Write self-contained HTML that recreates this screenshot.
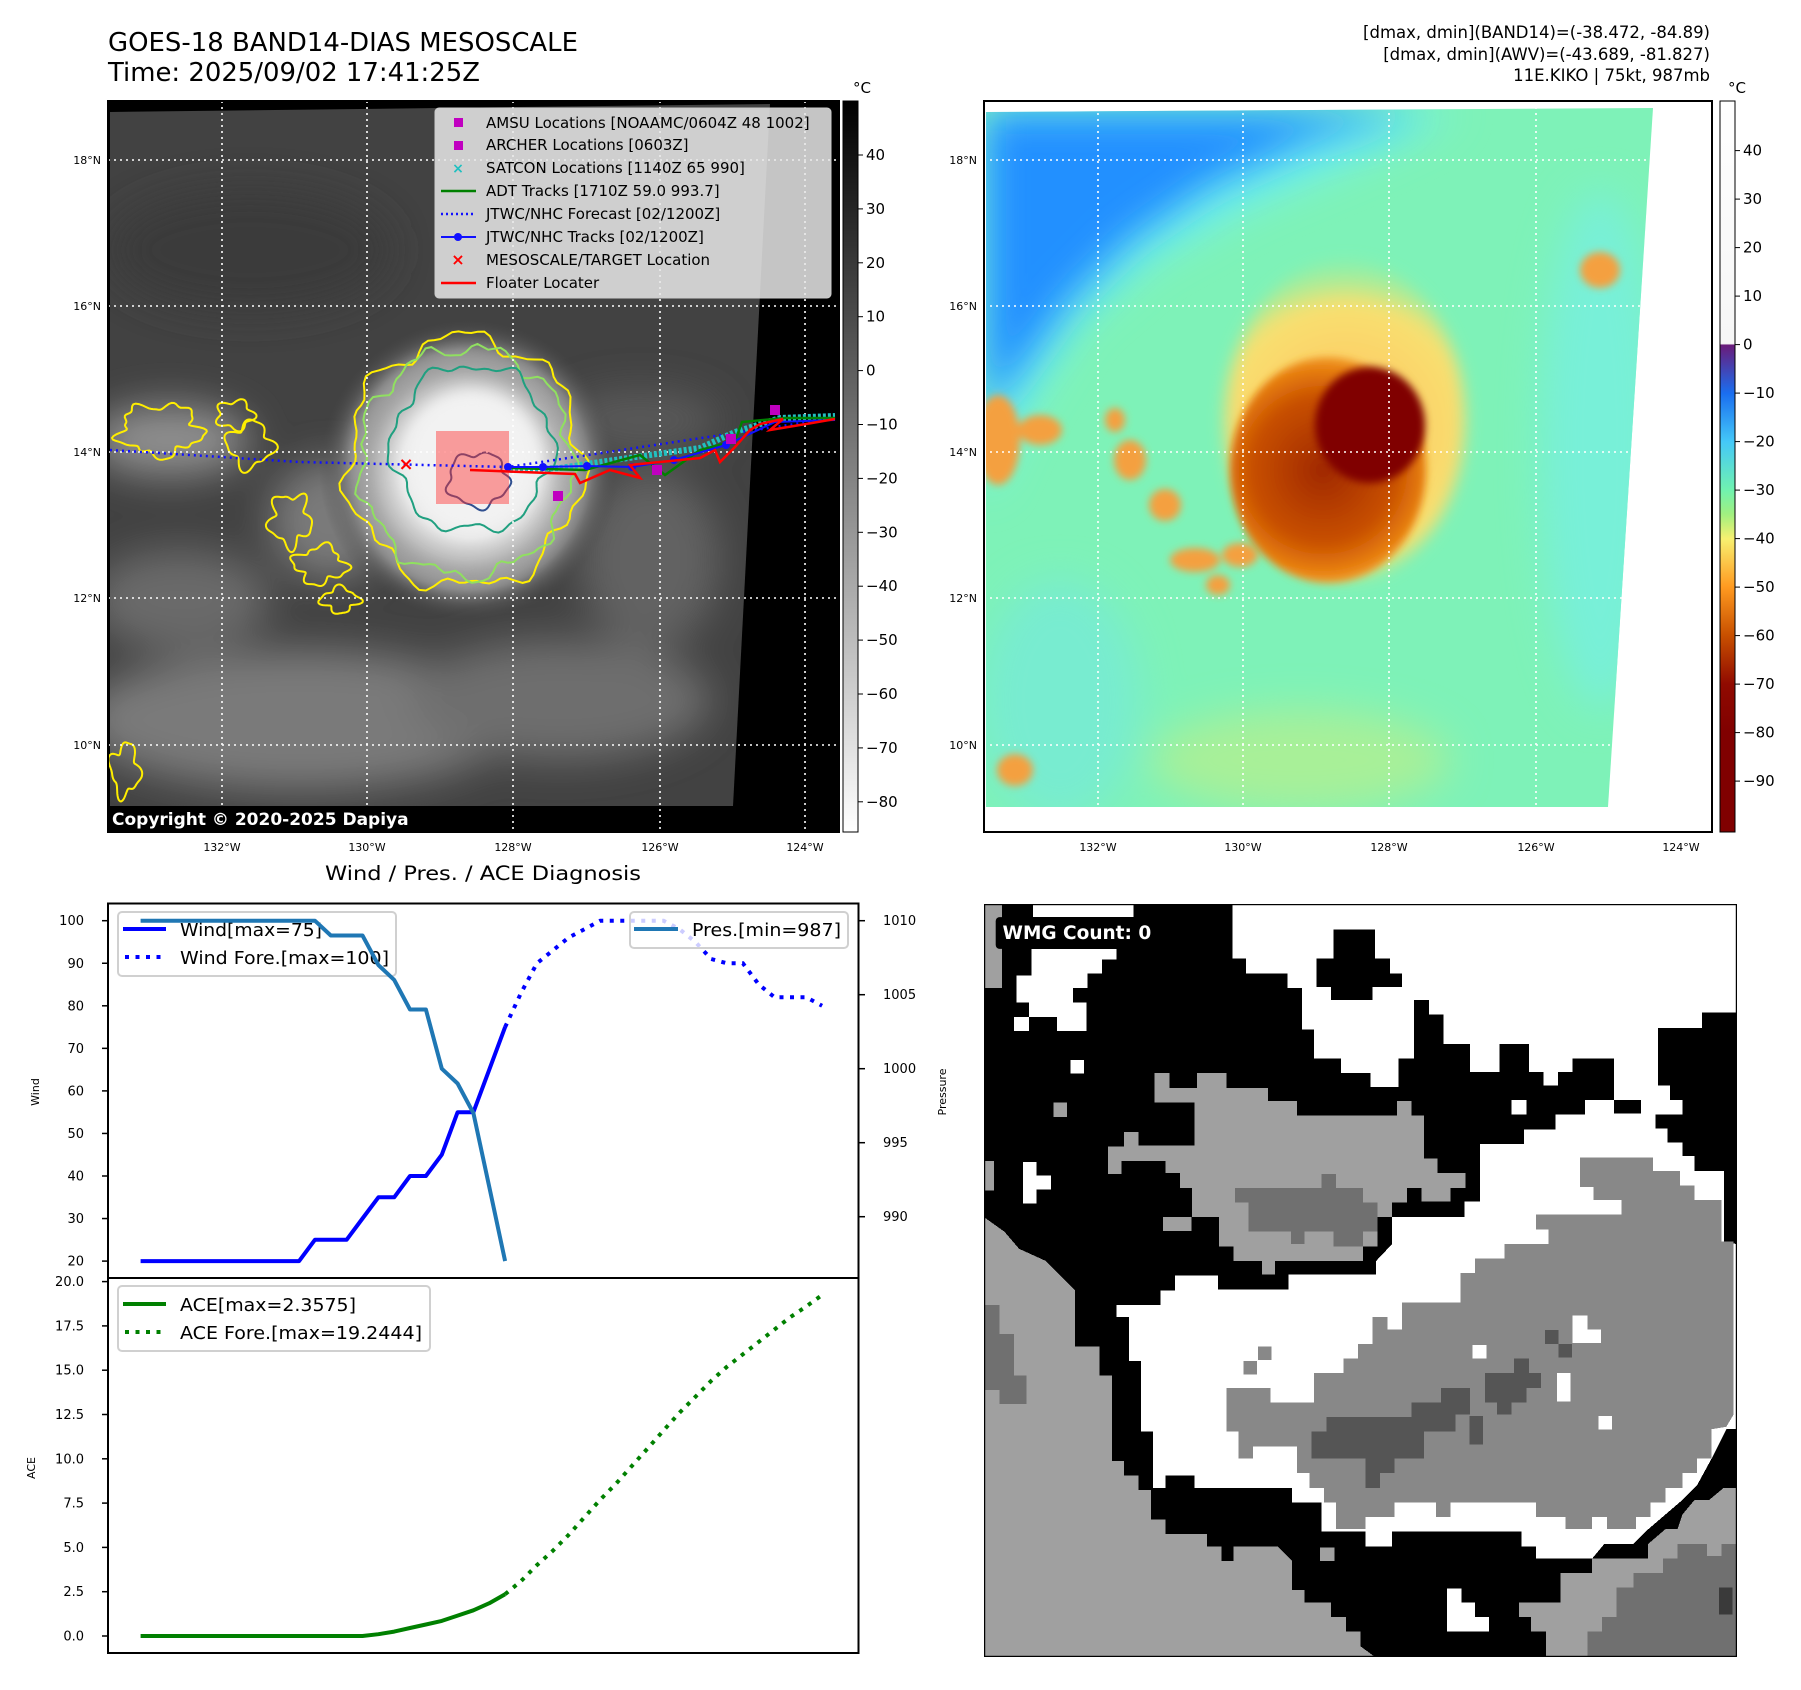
<!DOCTYPE html>
<html><head><meta charset="utf-8"><style>
html,body{margin:0;padding:0;background:#fff;}
svg{display:block;font-family:"DejaVu Sans","Liberation Sans",sans-serif;}
</style></head><body>
<svg id="root" width="1801" height="1690" viewBox="0 0 1801 1690" xmlns="http://www.w3.org/2000/svg">
<defs>
  <linearGradient id="cb1" x1="0" y1="0" x2="0" y2="1"><stop offset="0" stop-color="#000"/><stop offset="1" stop-color="#fff"/></linearGradient>
  <linearGradient id="cb2" x1="0" y1="0" x2="0" y2="1">
    <stop offset="0" stop-color="#ffffff"/><stop offset="0.332" stop-color="#f6f6f6"/>
    <stop offset="0.334" stop-color="#6a1b7a"/><stop offset="0.40" stop-color="#1a6ef0"/>
    <stop offset="0.466" stop-color="#44c8f8"/><stop offset="0.532" stop-color="#70f2b0"/>
    <stop offset="0.565" stop-color="#a0f080"/><stop offset="0.599" stop-color="#f8f070"/>
    <stop offset="0.665" stop-color="#ff9a20"/><stop offset="0.731" stop-color="#c85000"/>
    <stop offset="0.798" stop-color="#900a00"/><stop offset="0.864" stop-color="#800000"/><stop offset="1" stop-color="#800000"/>
  </linearGradient>
  <radialGradient id="storm1" cx="469" cy="470" r="150" gradientUnits="userSpaceOnUse">
    <stop offset="0" stop-color="#f4f4f4"/><stop offset="0.45" stop-color="#e6e6e6"/>
    <stop offset="0.6" stop-color="#bdbdbd"/><stop offset="0.8" stop-color="#808080"/>
    <stop offset="1" stop-color="#4a4a4a" stop-opacity="0"/>
  </radialGradient>
  <radialGradient id="halo2" cx="1345" cy="430" r="180" gradientUnits="userSpaceOnUse">
    <stop offset="0" stop-color="#ffc060"/><stop offset="0.7" stop-color="#f8e070"/><stop offset="1" stop-color="#a0f090" stop-opacity="0"/>
  </radialGradient>
  <radialGradient id="core2" cx="1323" cy="470" r="120" gradientUnits="userSpaceOnUse">
    <stop offset="0" stop-color="#a02800"/><stop offset="0.6" stop-color="#c85000"/><stop offset="0.85" stop-color="#e88010"/><stop offset="1" stop-color="#f8b040"/>
  </radialGradient>
  <filter id="b20" x="-50%" y="-50%" width="200%" height="200%"><feGaussianBlur stdDeviation="20"/></filter>
  <filter id="b8" x="-50%" y="-50%" width="200%" height="200%"><feGaussianBlur stdDeviation="8"/></filter>
  <filter id="b4" x="-50%" y="-50%" width="200%" height="200%"><feGaussianBlur stdDeviation="4"/></filter>
  <clipPath id="clipImg1"><polygon points="110,112 770,104 733,806 110,806"/></clipPath>
  <clipPath id="clipImg2"><polygon points="986,112 1653,108 1608,807 986,807"/></clipPath>
  <clipPath id="clipWmg"><rect x="8" y="8" width="1544" height="1544"/></clipPath>
</defs>

<text x="108" y="51" font-size="26" textLength="470" lengthAdjust="spacingAndGlyphs">GOES-18 BAND14-DIAS MESOSCALE</text>
<text x="108" y="81" font-size="26" textLength="372" lengthAdjust="spacingAndGlyphs">Time: 2025/09/02 17:41:25Z</text>
<g font-size="16.5" text-anchor="end">
  <text x="1710" y="38">[dmax, dmin](BAND14)=(-38.472, -84.89)</text>
  <text x="1710" y="60">[dmax, dmin](AWV)=(-43.689, -81.827)</text>
  <text x="1710" y="81">11E.KIKO | 75kt, 987mb</text>
</g>

<!-- ============ MAP 1 ============ -->
<g>
  <rect x="108" y="101" width="731" height="731" fill="#000"/>
  <g clip-path="url(#clipImg1)">
    <rect x="108" y="101" width="731" height="731" fill="#424242"/>
    <g filter="url(#b20)">
      <ellipse cx="300" cy="720" rx="220" ry="70" fill="#7a7a7a"/>
      <ellipse cx="560" cy="700" rx="150" ry="60" fill="#6e6e6e"/>
      <ellipse cx="180" cy="600" rx="90" ry="50" fill="#6a6a6a"/>
      <ellipse cx="650" cy="560" rx="70" ry="90" fill="#626262"/>
      <ellipse cx="170" cy="440" rx="80" ry="35" fill="#909090"/>
      <ellipse cx="330" cy="520" rx="60" ry="60" fill="#7a7a7a"/>
      <ellipse cx="640" cy="420" rx="80" ry="30" fill="#5a5a5a"/>
      <ellipse cx="250" cy="250" rx="140" ry="60" fill="#3a3a3a"/>
    </g>
    <circle cx="469" cy="470" r="150" fill="url(#storm1)"/>
    <ellipse cx="472" cy="462" rx="68" ry="72" fill="#f2f2f2" filter="url(#b8)"/>
    <ellipse cx="465" cy="470" rx="105" ry="112" fill="none" stroke="#a8a8a8" stroke-width="14" filter="url(#b8)" opacity="0.6"/>
  </g>
  <g id="contours1" fill="none" stroke-width="2"></g>
  <g stroke="#fff" stroke-width="1.6" stroke-dasharray="2,4">
    <line x1="222" y1="101" x2="222" y2="832"/><line x1="367" y1="101" x2="367" y2="832"/><line x1="513" y1="101" x2="513" y2="832"/><line x1="660" y1="101" x2="660" y2="832"/><line x1="805" y1="101" x2="805" y2="832"/>
    <line x1="108" y1="160" x2="839" y2="160"/><line x1="108" y1="306" x2="839" y2="306"/><line x1="108" y1="452" x2="839" y2="452"/><line x1="108" y1="598" x2="839" y2="598"/><line x1="108" y1="745" x2="839" y2="745"/>
  </g>
  <rect x="436" y="431" width="73" height="73" fill="#ff3030" fill-opacity="0.45"/>
  <polyline points="110,450 300,462 508,467 835,418" fill="none" stroke="#1010ff" stroke-width="2.5" stroke-dasharray="2,4"/>
  <polyline points="510,470 560,468 600,462 650,455 700,448 735,432 780,418 835,416" fill="none" stroke="#20c0c0" stroke-width="6" stroke-dasharray="3,2"/>
  <polyline points="508,468 585,470 640,455 665,475 700,450 735,441 742,422 785,418 835,418" fill="none" stroke="#008000" stroke-width="2.5"/>
  <polyline points="508,467 543,467 587,466 632,467 674,460 726,445 775,422 835,420" fill="none" stroke="#1010ff" stroke-width="2"/>
  <g fill="#1010ff"><circle cx="508" cy="467" r="4"/><circle cx="543" cy="467" r="4"/><circle cx="587" cy="466" r="4"/><circle cx="632" cy="467" r="4"/><circle cx="674" cy="460" r="4"/><circle cx="726" cy="445" r="4"/></g>
  <polyline points="470,470 575,474 580,483 610,470 640,478 630,465 700,458 715,450 720,462 735,447 750,430 760,424 783,419 770,430 812,423 835,419" fill="none" stroke="#ff0000" stroke-width="2.5"/>
  <g fill="#c000c0"><rect x="553" y="491" width="10" height="10"/><rect x="770" y="405" width="10" height="10"/><rect x="726" y="434" width="10" height="10"/><rect x="652" y="465" width="10" height="10"/></g>
  <text x="406" y="470" fill="#ff0000" font-size="18" font-weight="bold" text-anchor="middle">×</text>
  <g>
    <rect x="435" y="108" width="396" height="190" rx="4" fill="#e8e8e8" fill-opacity="0.85" stroke="#cccccc"/>
    <g font-size="15">
      <rect x="454" y="118" width="9" height="9" fill="#c000c0"/><text x="486" y="128">AMSU Locations [NOAAMC/0604Z 48 1002]</text>
      <rect x="454" y="141" width="9" height="9" fill="#c000c0"/><text x="486" y="150">ARCHER Locations [0603Z]</text>
      <text x="458" y="173" fill="#20c0c0" font-size="14" font-weight="bold" text-anchor="middle">×</text><text x="486" y="173">SATCON Locations [1140Z 65 990]</text>
      <line x1="441" y1="191" x2="476" y2="191" stroke="#008000" stroke-width="2.5"/><text x="486" y="196">ADT Tracks [1710Z 59.0 993.7]</text>
      <line x1="441" y1="214" x2="476" y2="214" stroke="#1010ff" stroke-width="2.5" stroke-dasharray="2,3"/><text x="486" y="219">JTWC/NHC Forecast [02/1200Z]</text>
      <line x1="441" y1="237" x2="476" y2="237" stroke="#1010ff" stroke-width="2"/><circle cx="458" cy="237" r="4" fill="#1010ff"/><text x="486" y="242">JTWC/NHC Tracks [02/1200Z]</text>
      <text x="458" y="265" fill="#ff0000" font-size="16" font-weight="bold" text-anchor="middle">×</text><text x="486" y="265">MESOSCALE/TARGET Location</text>
      <line x1="441" y1="283" x2="476" y2="283" stroke="#ff0000" stroke-width="2.5"/><text x="486" y="288">Floater Locater</text>
    </g>
  </g>
  <rect x="107" y="806" width="311" height="26" rx="3" fill="#000"/>
  <text x="112" y="825" fill="#fff" font-size="17" font-weight="bold">Copyright © 2020-2025 Dapiya</text>
  <rect x="108" y="101" width="731" height="731" fill="none" stroke="#000" stroke-width="2"/>
</g>
<g>
  <rect x="843" y="101" width="15" height="731" fill="url(#cb1)" stroke="#000" stroke-width="1"/>
  <text x="853" y="93" font-size="15">°C</text>
  <g id="cb1ticks" font-size="15"></g>
</g>
<g id="map1labels" font-size="11"></g>

<!-- ============ MAP 2 ============ -->
<g>
  <rect x="984" y="101" width="728" height="731" fill="#fff"/>
  <g clip-path="url(#clipImg2)">
    <rect x="984" y="101" width="728" height="731" fill="#7ef2b8"/>
    <g filter="url(#b20)">
      <ellipse cx="1300" cy="760" rx="150" ry="50" fill="#a8f098"/>
      <ellipse cx="1060" cy="700" rx="80" ry="120" fill="#78ecd0"/>
      <ellipse cx="1600" cy="450" rx="60" ry="260" fill="#78f0d8"/>
      <path d="M984,112 L1460,112 L1380,150 L1250,205 L1150,260 L1080,320 L1030,400 L984,500 Z" fill="#70f0f0"/>
    </g>
    <path d="M984,112 L1420,112 L1310,140 L1210,185 L1130,240 L1070,300 L1020,370 L984,420 Z" fill="#2090ff" filter="url(#b20)"/>
    <ellipse cx="1345" cy="420" rx="120" ry="160" fill="url(#halo2)" filter="url(#b8)"/>
    <g fill="#f4a040" filter="url(#b4)">
      <ellipse cx="998" cy="440" rx="22" ry="45"/><ellipse cx="1040" cy="430" rx="22" ry="15"/>
      <ellipse cx="1130" cy="460" rx="16" ry="20"/><ellipse cx="1165" cy="505" rx="16" ry="16"/>
      <ellipse cx="1195" cy="560" rx="25" ry="12"/><ellipse cx="1218" cy="585" rx="12" ry="10"/>
      <ellipse cx="1015" cy="770" rx="18" ry="16"/><ellipse cx="1600" cy="270" rx="20" ry="18"/>
      <ellipse cx="1115" cy="420" rx="10" ry="12"/><ellipse cx="1240" cy="555" rx="18" ry="12"/>
    </g>
    <ellipse cx="1328" cy="470" rx="98" ry="113" fill="url(#core2)" filter="url(#b4)"/>
    <ellipse cx="1370" cy="425" rx="55" ry="58" fill="#800000" filter="url(#b4)"/>
  </g>
  <g stroke="#fff" stroke-width="1.6" stroke-dasharray="2,4">
    <line x1="1098" y1="101" x2="1098" y2="832"/><line x1="1243" y1="101" x2="1243" y2="832"/><line x1="1389" y1="101" x2="1389" y2="832"/><line x1="1536" y1="101" x2="1536" y2="832"/><line x1="1681" y1="101" x2="1681" y2="832"/>
    <line x1="984" y1="160" x2="1712" y2="160"/><line x1="984" y1="306" x2="1712" y2="306"/><line x1="984" y1="452" x2="1712" y2="452"/><line x1="984" y1="598" x2="1712" y2="598"/><line x1="984" y1="745" x2="1712" y2="745"/>
  </g>
  <rect x="984" y="101" width="728" height="731" fill="none" stroke="#000" stroke-width="2"/>
</g>
<g>
  <rect x="1720" y="101" width="15" height="731" fill="url(#cb2)" stroke="#000" stroke-width="1"/>
  <text x="1728" y="93" font-size="15">°C</text>
  <g id="cb2ticks" font-size="15"></g>
</g>
<g id="map2labels" font-size="11"></g>

<!-- ============ WIND / PRES / ACE ============ -->
<text x="483" y="880" font-size="19.5" text-anchor="middle" textLength="316" lengthAdjust="spacingAndGlyphs">Wind / Pres. / ACE Diagnosis</text>
<g id="windChart"></g>
<g id="aceChart"></g>

<!-- ============ WMG ============ -->
<svg x="984" y="904" width="753" height="753" viewBox="8 8 1544 1544">
  <g clip-path="url(#clipWmg)" shape-rendering="crispEdges">
  <rect x="8" y="8" width="1544" height="1544" fill="#a0a0a0"/>
  <polygon fill="#000" points="8,8 1552,8 1552,1205 1525,1205 1495,1230 1465,1230 1440,1260 1430,1290 1405,1290 1370,1320 1370,1350 1255,1350 1255,1380 1190,1380 1190,1440 1105,1440 1105,1470 1130,1470 1130,1500 1160,1500 1160,1552 810,1552 780,1530 780,1500 750,1500 750,1470 720,1470 720,1440 665,1440 665,1415 640,1415 640,1355 610,1325 520,1325 520,1355 495,1355 495,1325 465,1325 465,1300 380,1300 380,1270 350,1270 350,1210 325,1210 325,1180 295,1180 295,1150 270,1150 270,975 245,975 245,915 195,915 195,800 165,770 135,740 80,715 50,680 8,650"/>
  <polygon fill="#707070" points="8,830 40,830 40,890 70,890 70,975 95,975 95,1033 40,1033 40,1005 8,1005"/>
  <polygon fill="#707070" points="1245,1552 1245,1500 1275,1500 1275,1470 1305,1470 1305,1410 1340,1410 1340,1380 1400,1380 1400,1350 1430,1350 1430,1320 1490,1320 1490,1345 1520,1345 1520,1320 1552,1320 1552,1552"/>
  <rect x="1515" y="1410" width="28" height="55" fill="#3a3a3a"/>
  <polygon fill="#a0a0a0" points="8,8 45,8 45,180 8,180"/>
  <rect x="8" y="535" width="20" height="60" fill="#a0a0a0"/>
  <rect x="150" y="415" width="28" height="30" fill="#a0a0a0"/>
  <polygon fill="#fff" points="518,8 1552,8 1552,230 1480,230 1480,262 1390,262 1390,380 1415,380 1415,410 1300,410 1300,325 1215,325 1215,352 1185,352 1185,380 1155,380 1155,352 1125,352 1125,295 1065,295 1065,352 1005,352 1005,295 950,295 950,235 920,235 920,205 890,205 890,325 858,325 858,383 800,383 800,355 740,355 740,325 685,325 685,265 660,265 660,180 630,180 630,150 545,150 545,120 518,120"/>
  <polygon fill="#000" points="725,60 810,60 810,120 840,120 840,150 865,150 865,178 805,178 805,205 720,205 720,178 690,178 690,120 725,120"/>
  <polygon fill="#fff" points="105,100 280,100 280,122 250,122 250,150 220,150 220,180 190,180 190,210 218,210 218,268 158,268 158,240 100,240 100,210 75,210 75,155 105,155"/>
  <rect x="108" y="10" width="207" height="25" fill="#fff"/>
  <rect x="70" y="240" width="30" height="28" fill="#fff"/>
  <rect x="185" y="328" width="28" height="28" fill="#fff"/>
  <rect x="88" y="537" width="28" height="85" fill="#fff"/>
  <rect x="115" y="565" width="30" height="28" fill="#fff"/>
  <rect x="1090" y="410" width="30" height="30" fill="#fff"/>
  <polygon fill="#a0a0a0" points="358,355 388,355 388,385 445,385 445,355 505,355 505,385 590,385 590,412 650,412 650,442 855,442 855,412 885,412 885,442 910,442 910,530 938,530 938,560 995,560 995,590 965,590 965,618 905,618 905,590 875,590 875,620 845,620 845,650 815,650 815,710 785,710 785,740 605,740 605,768 578,768 578,740 520,740 520,710 490,710 490,650 435,650 435,590 410,590 410,560 380,560 380,535 290,535 290,562 262,562 262,505 295,505 295,475 325,475 325,503 440,503 440,415 358,415"/>
  <rect x="375" y="650" width="58" height="28" fill="#a0a0a0"/>
  <polygon fill="#707070" points="523,590 700,590 700,562 730,562 730,590 785,590 785,620 815,620 815,680 785,680 785,710 725,710 725,680 665,680 665,705 638,705 638,680 550,680 550,620 523,620"/>
  <polygon fill="#fff" points="280,830 370,830 370,800 400,800 400,770 488,770 488,798 632,798 632,768 812,768 812,740 845,705 845,650 993,650 993,618 1025,618 1025,500 1115,500 1115,470 1180,470 1180,440 1240,440 1240,410 1300,410 1300,438 1355,438 1355,410 1440,410 1440,440 1385,440 1385,468 1410,468 1410,497 1440,497 1440,525 1465,525 1465,555 1525,555 1525,700 1550,705 1550,1085 1530,1085 1500,1145 1470,1200 1440,1230 1405,1260 1370,1290 1340,1320 1280,1320 1255,1350 1140,1350 1140,1325 1110,1325 1110,1295 845,1295 845,1325 790,1325 790,1295 700,1295 700,1235 640,1235 640,1205 440,1205 440,1180 380,1180 380,1205 355,1205 355,1090 330,1090 330,945 305,945 305,855 280,855"/>
  <polygon fill="#888888" points="1230,528 1380,528 1380,555 1435,555 1435,585 1465,585 1465,615 1520,615 1520,700 1545,700 1545,1055 1530,1080 1500,1085 1500,1145 1470,1145 1470,1175 1440,1175 1440,1205 1405,1205 1405,1235 1375,1235 1375,1265 1345,1265 1345,1290 1285,1290 1285,1265 1255,1265 1255,1290 1200,1290 1200,1265 1140,1265 1140,1235 965,1235 965,1265 935,1265 935,1235 850,1235 850,1265 790,1265 790,1290 730,1290 730,1265 730,1235 705,1235 705,1205 675,1205 675,1175 650,1175 650,1120 560,1120 560,1145 530,1145 530,1090 505,1090 505,1000 595,1000 595,1030 685,1030 685,970 745,970 745,940 775,940 775,910 805,910 805,855 835,855 835,880 865,880 865,825 985,825 985,765 1015,765 1015,735 1075,735 1075,705 1165,705 1165,675 1140,675 1140,645 1315,645 1315,615 1258,615 1258,588 1230,588"/>
  <polygon fill="#555" points="680,1090 710,1090 710,1060 885,1060 885,1030 945,1030 945,1000 1005,1000 1005,1055 975,1055 975,1090 910,1090 910,1145 850,1145 850,1175 820,1175 820,1205 790,1205 790,1145 680,1145"/>
  <polygon fill="#555" points="1035,970 1095,970 1095,940 1125,940 1125,970 1150,970 1150,1000 1120,1000 1120,1030 1090,1030 1090,1055 1060,1055 1060,1030 1035,1030"/>
  <rect x="1158" y="882" width="28" height="28" fill="#555"/><rect x="1186" y="910" width="28" height="28" fill="#555"/><rect x="1003" y="1058" width="28" height="58" fill="#555"/>
  <rect x="1215" y="852" width="30" height="30" fill="#fff"/><rect x="1215" y="880" width="58" height="28" fill="#fff"/><rect x="1010" y="912" width="28" height="28" fill="#fff"/><rect x="1183" y="970" width="28" height="58" fill="#fff"/><rect x="1268" y="1058" width="28" height="28" fill="#fff"/>
  <rect x="570" y="915" width="28" height="28" fill="#888"/><rect x="540" y="945" width="28" height="28" fill="#888"/>
  <polygon fill="#fff" points="957,1412 987,1412 987,1440 1015,1440 1015,1470 1043,1470 1043,1500 957,1500"/>
  <rect x="697" y="1327" width="30" height="28" fill="#a0a0a0"/>
  <rect x="1285" y="1322" width="85" height="28" fill="#000"/>
  </g>
  <rect x="32" y="35" width="368" height="65" rx="8" fill="#000"/>
  <text x="46" y="80" fill="#fff" font-size="38" font-weight="bold">WMG Count: 0</text>
  <rect x="8" y="8" width="1544" height="1544" fill="none" stroke="#000" stroke-width="5"/>
</svg>

<script>
const windObs = [20,20,20,20,20,20,20,20,20,20,20,25,25,25,30,35,35,40,40,45,55,55,65,75];
const windFcst = [75,83,90,93,96,98,100,100,100,100,100,98,95,91,90,90,85,82,82,82,80];
const presObs = [1010,1010,1010,1010,1010,1010,1010,1010,1010,1010,1010,1010,1009,1009,1009,1007,1006,1004,1004,1000,999,997,992,987];
const aceObs = [0,0,0,0,0,0,0,0,0,0,0,0,0,0,0,0.1,0.25,0.45,0.65,0.85,1.15,1.45,1.85,2.3575];
const aceFcst = [2.3575,3.1,4.0,4.8,5.7,6.7,7.7,8.6,9.6,10.6,11.6,12.6,13.5,14.4,15.2,15.9,16.6,17.3,18.0,18.6,19.2444];
const windTicks = [20,30,40,50,60,70,80,90,100];
const presTicks = [990,995,1000,1005,1010];
const aceTicks = [0,2.5,5,7.5,10,12.5,15,17.5,20];
const cb1Ticks = [40,30,20,10,0,-10,-20,-30,-40,-50,-60,-70,-80];
const cb2Ticks = [40,30,20,10,0,-10,-20,-30,-40,-50,-60,-70,-80,-90];
const lonLabels = ["132°W","130°W","128°W","126°W","124°W"];
const latLabels = ["18°N","16°N","14°N","12°N","10°N"];

const NS = "http://www.w3.org/2000/svg";
function mk(parent, tag, attrs, text){
  const e = document.createElementNS(NS, tag);
  for (const k in attrs) e.setAttribute(k, attrs[k]);
  if (text !== undefined) e.textContent = text;
  parent.appendChild(e);
  return e;
}
const xK = k => 140.6 + k*15.85;
const yWind = v => 920.7 + (100 - v)*4.255;
const yPres = p => 920.7 + (1010 - p)*14.8;
const yAce = a => 1636 - a*17.72;
const yCb1 = v => 370.6 - v*5.39;
const yCb2 = v => 344.6 - v*4.85;

const cb1g = document.getElementById('cb1ticks');
cb1Ticks.forEach(v => {
  const y = yCb1(v);
  const t = mk(cb1g, 'line', {x1:858, y1:y, x2:863, y2:y, stroke:'#000', 'stroke-width':1});
  
  
  const l = mk(cb1g, 'text', {x:866, y:y+5}, v < 0 ? '\u2212' + Math.abs(v) : String(v));
  
  
});
const cb2g = document.getElementById('cb2ticks');
cb2Ticks.forEach(v => {
  const y = yCb2(v);
  const t = mk(cb2g, 'line', {x1:1735, y1:y, x2:1740, y2:y, stroke:'#000', 'stroke-width':1});
  
  
  const l = mk(cb2g, 'text', {x:1743, y:y+5}, v < 0 ? '\u2212' + Math.abs(v) : String(v));
  
  
});

[[document.getElementById('map1labels'), 0], [document.getElementById('map2labels'), 876]].forEach(([g, off]) => {
  const xs = [222,367,513,660,805], ys = [160,306,452,598,745];
  lonLabels.forEach((s,i) => {
    const t = mk(g, 'text', {x: xs[i]+off, y: 851, 'text-anchor':'middle'}, s);
    
    
  });
  latLabels.forEach((s,i) => {
    const t = mk(g, 'text', {x: off + 101, y: ys[i]+4, 'text-anchor':'end'}, s);
    
    
  });
});

function wobble(cx, cy, rx, ry, amp, seeds){
  let d = '';
  for (let i = 0; i <= 120; i++){
    const th = i/120*2*Math.PI;
    let r = 1;
    seeds.forEach((s,j) => { r += amp*Math.sin(s[0]*th + s[1]) / (j+1); });
    const x = cx + rx*r*Math.cos(th), y = cy + ry*r*Math.sin(th);
    d += (i ? 'L' : 'M') + x.toFixed(1) + ',' + y.toFixed(1);
  }
  return d + 'Z';
}
const cg = document.getElementById('contours1');
const contourDefs = [
  [465,462,117,125,0.06,[[7,0.3],[13,1.1],[23,2.0]],'#ffee00'],
  [466,462,106,114,0.05,[[9,0.8],[17,2.2],[29,0.4]],'#90e060'],
  [472,448,80,83,0.06,[[6,1.5],[11,0.2],[19,2.7]],'#20a080'],
  [478,480,30,27,0.1,[[5,0.5],[9,1.7]],'#305090'],
  [160,430,40,25,0.15,[[5,0.3],[9,1.2],[15,2]],'#ffee00'],
  [250,445,22,22,0.2,[[4,0.8],[7,1.4]],'#ffee00'],
  [290,520,20,25,0.2,[[5,0.1],[8,2.4]],'#ffee00'],
  [320,565,25,18,0.2,[[4,0.6],[9,1.0]],'#ffee00'],
  [340,600,18,12,0.2,[[4,1.6],[7,0.5]],'#ffee00'],
  [125,770,14,25,0.2,[[4,0.4],[7,1.3]],'#ffee00'],
  [235,415,18,14,0.2,[[5,1.2]],'#ffee00']
];
contourDefs.forEach(c => {
  const p = mk(cg, 'path', {d: wobble(c[0],c[1],c[2],c[3],c[4],c[5]), stroke: c[6]});
  
  
});

const wc = document.getElementById('windChart');
const frame1 = mk(wc, 'rect', {x:108, y:903.5, width:750.5, height:374.5, fill:'#fff', stroke:'#000', 'stroke-width':2});


windTicks.forEach(v => {
  const y = yWind(v);
  mk(wc, 'line', {x1:102, y1:y, x2:108, y2:y, stroke:'#000', 'stroke-width':1.5});
  const t = mk(wc, 'text', {x:84, y:y+4.5, 'font-size':13, 'text-anchor':'end'}, String(v));
  
  
});
presTicks.forEach(p => {
  const y = yPres(p);
  mk(wc, 'line', {x1:858.5, y1:y, x2:865, y2:y, stroke:'#000', 'stroke-width':1.5});
  const t = mk(wc, 'text', {x:883, y:y+4.5, 'font-size':13}, String(p));
  
  
});
const wl = mk(wc, 'text', {x:0, y:0, 'font-size':11, 'text-anchor':'middle', transform:'translate(39,1092) rotate(-90)'}, 'Wind');


const pl = mk(wc, 'text', {x:0, y:0, 'font-size':11, 'text-anchor':'middle', transform:'translate(946,1092) rotate(-90)'}, 'Pressure');



const ptsWind = windObs.map((v,k) => xK(k).toFixed(1) + ',' + yWind(v).toFixed(1)).join(' ');
const wLine = mk(wc, 'polyline', {points: ptsWind, fill:'none', stroke:'#0000ff', 'stroke-width':4, 'stroke-linejoin':'round'});


const off = windObs.length - 1;
const ptsWF = windFcst.map((v,i) => xK(off+i).toFixed(1) + ',' + yWind(v).toFixed(1)).join(' ');
const wfLine = mk(wc, 'polyline', {points: ptsWF, fill:'none', stroke:'#0000ff', 'stroke-width':4, 'stroke-dasharray':'4,6.5'});



const lg1 = mk(wc, 'g', {});


mk(lg1, 'rect', {x:118, y:912, width:278, height:64, rx:4, fill:'#fff', 'fill-opacity':0.8, stroke:'#d0d0d0', 'stroke-width':2});
mk(lg1, 'line', {x1:123, y1:929, x2:166, y2:929, stroke:'#0000ff', 'stroke-width':4});
mk(lg1, 'text', {x:180, y:936, 'font-size':18, textLength:142, lengthAdjust:'spacingAndGlyphs'}, 'Wind[max=75]');
mk(lg1, 'line', {x1:125, y1:957, x2:166, y2:957, stroke:'#0000ff', 'stroke-width':4, 'stroke-dasharray':'4,6.5'});
mk(lg1, 'text', {x:180, y:964, 'font-size':18, textLength:209, lengthAdjust:'spacingAndGlyphs'}, 'Wind Fore.[max=100]');

const ptsP = presObs.map((p,k) => xK(k).toFixed(1) + ',' + yPres(p).toFixed(1)).join(' ');
const pLine = mk(wc, 'polyline', {points: ptsP, fill:'none', stroke:'#1f77b4', 'stroke-width':4, 'stroke-linejoin':'round'});



const lg2 = mk(wc, 'g', {});


mk(lg2, 'rect', {x:630, y:912, width:218, height:36, rx:4, fill:'#fff', 'fill-opacity':0.8, stroke:'#d0d0d0', 'stroke-width':2});
mk(lg2, 'line', {x1:634, y1:929, x2:678, y2:929, stroke:'#1f77b4', 'stroke-width':4});
mk(lg2, 'text', {x:692, y:936, 'font-size':18, textLength:149, lengthAdjust:'spacingAndGlyphs'}, 'Pres.[min=987]');

const ac = document.getElementById('aceChart');
const frame2 = mk(ac, 'rect', {x:108, y:1278, width:750.5, height:375, fill:'#fff', stroke:'#000', 'stroke-width':2});


aceTicks.forEach(a => {
  const y = yAce(a);
  mk(ac, 'line', {x1:102, y1:y, x2:108, y2:y, stroke:'#000', 'stroke-width':1.5});
  const t = mk(ac, 'text', {x:84, y:y+4.5, 'font-size':13, 'text-anchor':'end'}, a.toFixed(1));
  
  
});
const al = mk(ac, 'text', {x:0, y:0, 'font-size':11, 'text-anchor':'middle', transform:'translate(35,1468) rotate(-90)'}, 'ACE');


const ptsA = aceObs.map((a,k) => xK(k).toFixed(1) + ',' + yAce(a).toFixed(1)).join(' ');
const aLine = mk(ac, 'polyline', {points: ptsA, fill:'none', stroke:'#008000', 'stroke-width':4, 'stroke-linejoin':'round'});


const aoff = aceObs.length - 1;
const ptsAF = aceFcst.map((a,i) => xK(aoff+i).toFixed(1) + ',' + yAce(a).toFixed(1)).join(' ');
const afLine = mk(ac, 'polyline', {points: ptsAF, fill:'none', stroke:'#008000', 'stroke-width':4, 'stroke-dasharray':'4,6.5'});


const lg3 = mk(ac, 'g', {});


mk(lg3, 'rect', {x:118, y:1286, width:312, height:65, rx:4, fill:'#fff', 'fill-opacity':0.8, stroke:'#d0d0d0', 'stroke-width':2});
mk(lg3, 'line', {x1:123, y1:1304, x2:166, y2:1304, stroke:'#008000', 'stroke-width':4});
mk(lg3, 'text', {x:180, y:1311, 'font-size':18, textLength:176, lengthAdjust:'spacingAndGlyphs'}, 'ACE[max=2.3575]');
mk(lg3, 'line', {x1:125, y1:1332, x2:166, y2:1332, stroke:'#008000', 'stroke-width':4, 'stroke-dasharray':'4,6.5'});
mk(lg3, 'text', {x:180, y:1339, 'font-size':18, textLength:242, lengthAdjust:'spacingAndGlyphs'}, 'ACE Fore.[max=19.2444]');
</script>
</svg>
</body></html>
